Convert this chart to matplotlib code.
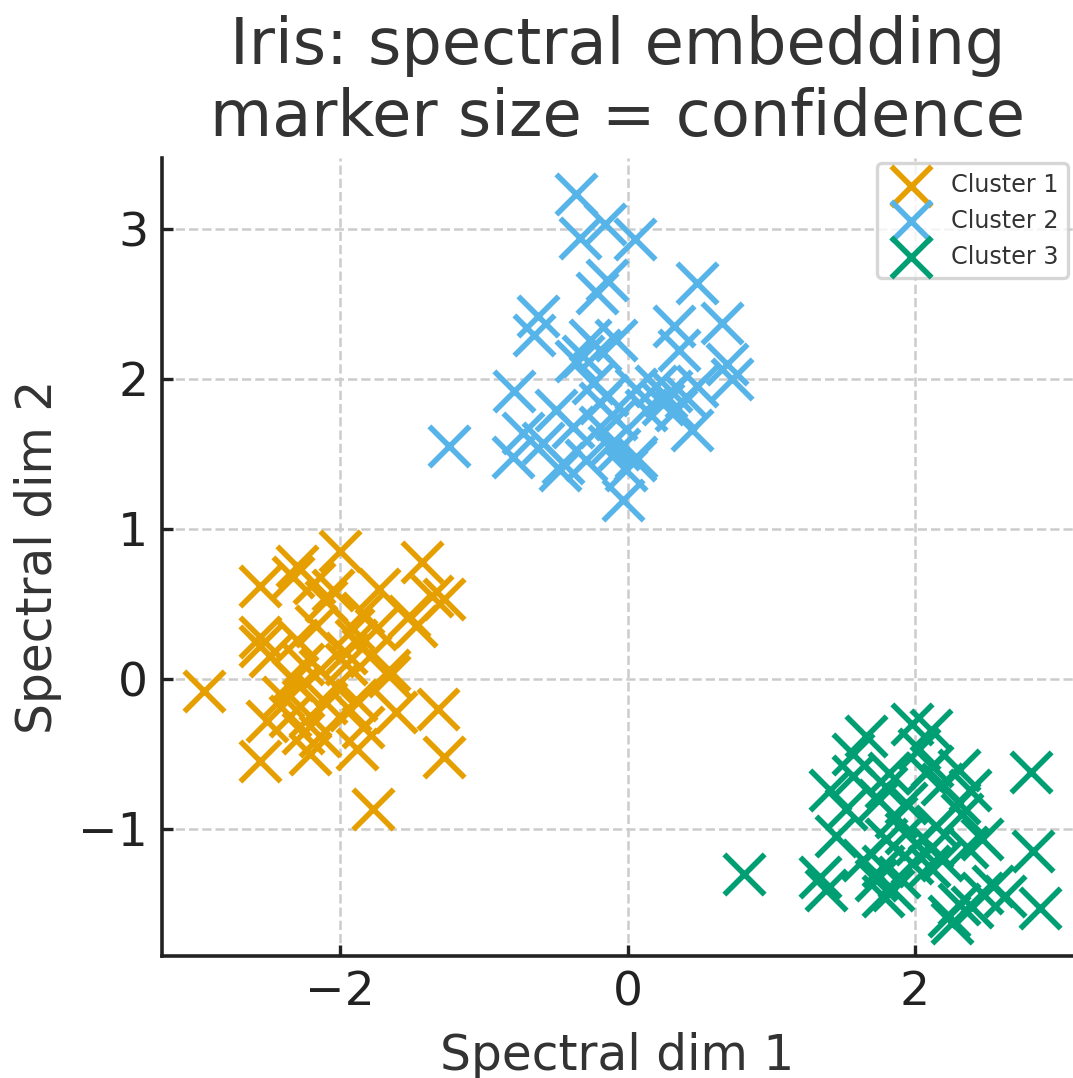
import matplotlib
matplotlib.use("Agg")
import matplotlib.pyplot as plt

# Spectral embedding coordinates
c1_x = [-2.95, -2.00, -1.43, -2.56, -2.33, -2.18, -1.73, -1.28, -1.36, -1.47,
        -1.52, -1.84, -1.91, -2.10, -2.56, -2.56, -2.30, -2.26, -2.33, -2.14,
        -1.96, -1.89, -1.66, -1.75, -2.03, -1.89, -1.61, -1.32, -1.28, -1.88,
        -1.77, -2.56, -2.51, -2.21, -2.26, -2.14, -2.35, -2.40, -2.21, -1.93,
        -2.49, -2.17, -2.05, -2.30, -1.84, -2.10, -2.28, -1.96, -1.79, -1.66]
c1_y = [-0.08, 0.85, 0.78, 0.62, 0.68, 0.64, 0.60, 0.53, 0.55, 0.35,
        0.42, 0.44, 0.33, 0.52, 0.22, 0.28, 0.26, 0.10, -0.01, 0.06,
        0.17, 0.26, 0.06, 0.33, -0.05, -0.14, -0.22, -0.20, -0.52, -0.47,
        -0.87, -0.55, -0.28, -0.50, -0.36, -0.38, -0.25, -0.12, -0.25, -0.21,
        0.15, 0.35, 0.59, 0.75, -0.32, -0.16, -0.05, 0.10, 0.15, 0.02]

c2_x = [-0.36, -0.16, -0.33, 0.05, 0.48, -0.14, -0.21, -0.62, -0.65, 0.66,
        0.32, -0.26, -0.08, -0.19, -0.31, 0.36, 0.69, 0.73, 0.48, 0.41,
        0.27, 0.20, 0.34, 0.45, 0.13, 0.06, -0.79, -0.24, -0.50, -0.73,
        -0.80, -0.59, -0.38, -0.19, -0.29, -0.13, -0.06, 0.06, -0.01, -0.03,
        -0.19, -0.45, -0.08, -1.24, -0.47, 0.05, -0.14, -0.36, 0.25, 0.30]
c2_y = [3.23, 3.03, 2.94, 2.93, 2.64, 2.66, 2.57, 2.42, 2.29, 2.37,
        2.35, 2.26, 2.26, 2.19, 2.15, 2.19, 2.10, 2.00, 1.95, 1.88,
        1.88, 1.95, 1.79, 1.66, 1.79, 1.93, 1.92, 1.97, 1.79, 1.64,
        1.48, 1.57, 1.68, 1.84, 1.46, 1.55, 1.53, 1.48, 1.39, 1.19,
        1.68, 1.44, 1.73, 1.55, 1.39, 1.46, 1.89, 2.12, 1.83, 1.92]

c3_x = [0.81, 2.81, 2.82, 2.87, 1.98, 2.11, 1.66, 1.57, 2.31, 2.12,
        1.41, 1.57, 1.80, 1.75, 1.94, 1.87, 2.31, 2.33, 2.19, 2.08,
        1.52, 1.45, 1.80, 2.01, 2.12, 2.36, 2.47, 1.98, 2.10, 1.78,
        1.73, 1.85, 1.78, 1.34, 1.38, 2.47, 2.40, 2.24, 2.31, 2.54,
        1.89, 1.94, 2.15, 2.38, 2.03, 1.82, 2.26, 2.63, 2.19, 1.64]
c3_y = [-1.30, -0.62, -1.15, -1.53, -0.30, -0.34, -0.38, -0.50, -0.61, -0.58,
        -0.74, -0.65, -0.72, -0.81, -0.83, -0.92, -0.83, -0.90, -0.70, -0.63,
        -0.87, -1.05, -1.07, -1.10, -1.12, -1.12, -1.07, -1.23, -1.25, -1.25,
        -1.34, -1.41, -1.45, -1.32, -1.41, -1.43, -1.52, -1.58, -1.50, -1.38,
        -1.32, -1.03, -0.98, -0.74, -0.47, -0.63, -1.63, -1.45, -1.21, -1.21]

labels = ["Cluster 1", "Cluster 2", "Cluster 3"]
colors = ["#E69F00", "#56B4E9", "#009E73"]
xs = [c1_x, c2_x, c3_x]
ys = [c1_y, c2_y, c3_y]

text_color = "#333333"
fig = plt.figure(figsize=(1073 / 200, 1078 / 200), dpi=200)
ax = fig.add_axes([0.151, 0.113, 0.849, 0.740])

for x, y, lab, col in zip(xs, ys, labels, colors):
    ax.scatter(x, y, marker="x", s=210, linewidths=2.0, color=col, label=lab, zorder=3)

ax.set_xlim(-3.24, 3.10)
ax.set_ylim(-1.85, 3.47)
ax.set_xticks([-2, 0, 2])
ax.set_yticks([-1, 0, 1, 2, 3])

ax.grid(True, linestyle="--", color="#cccccc", linewidth=0.9, zorder=0)
ax.spines["top"].set_visible(False)
ax.spines["right"].set_visible(False)
for s in ["left", "bottom"]:
    ax.spines[s].set_linewidth(1.3)
    ax.spines[s].set_color("#222222")
ax.tick_params(direction="in", length=4, width=1.2, labelsize=17, colors="#222222",
               labelcolor="#222222", pad=5)

ax.set_xlabel("Spectral dim 1", fontsize=17.5, color=text_color, labelpad=6)
ax.set_ylabel("Spectral dim 2", fontsize=17.5, color=text_color, labelpad=6)
ax.set_title("Iris: spectral embedding\nmarker size = confidence", fontsize=23,
             color=text_color, pad=8)

leg = ax.legend(loc="upper right", fontsize=8.6, labelspacing=0.5, handletextpad=0.7,
                borderpad=0.4, borderaxespad=0.2, frameon=True)
leg.get_frame().set_edgecolor("#cccccc")
leg.get_frame().set_linewidth(1.2)
for t in leg.get_texts():
    t.set_color(text_color)

fig.savefig("out.png", dpi=200)
